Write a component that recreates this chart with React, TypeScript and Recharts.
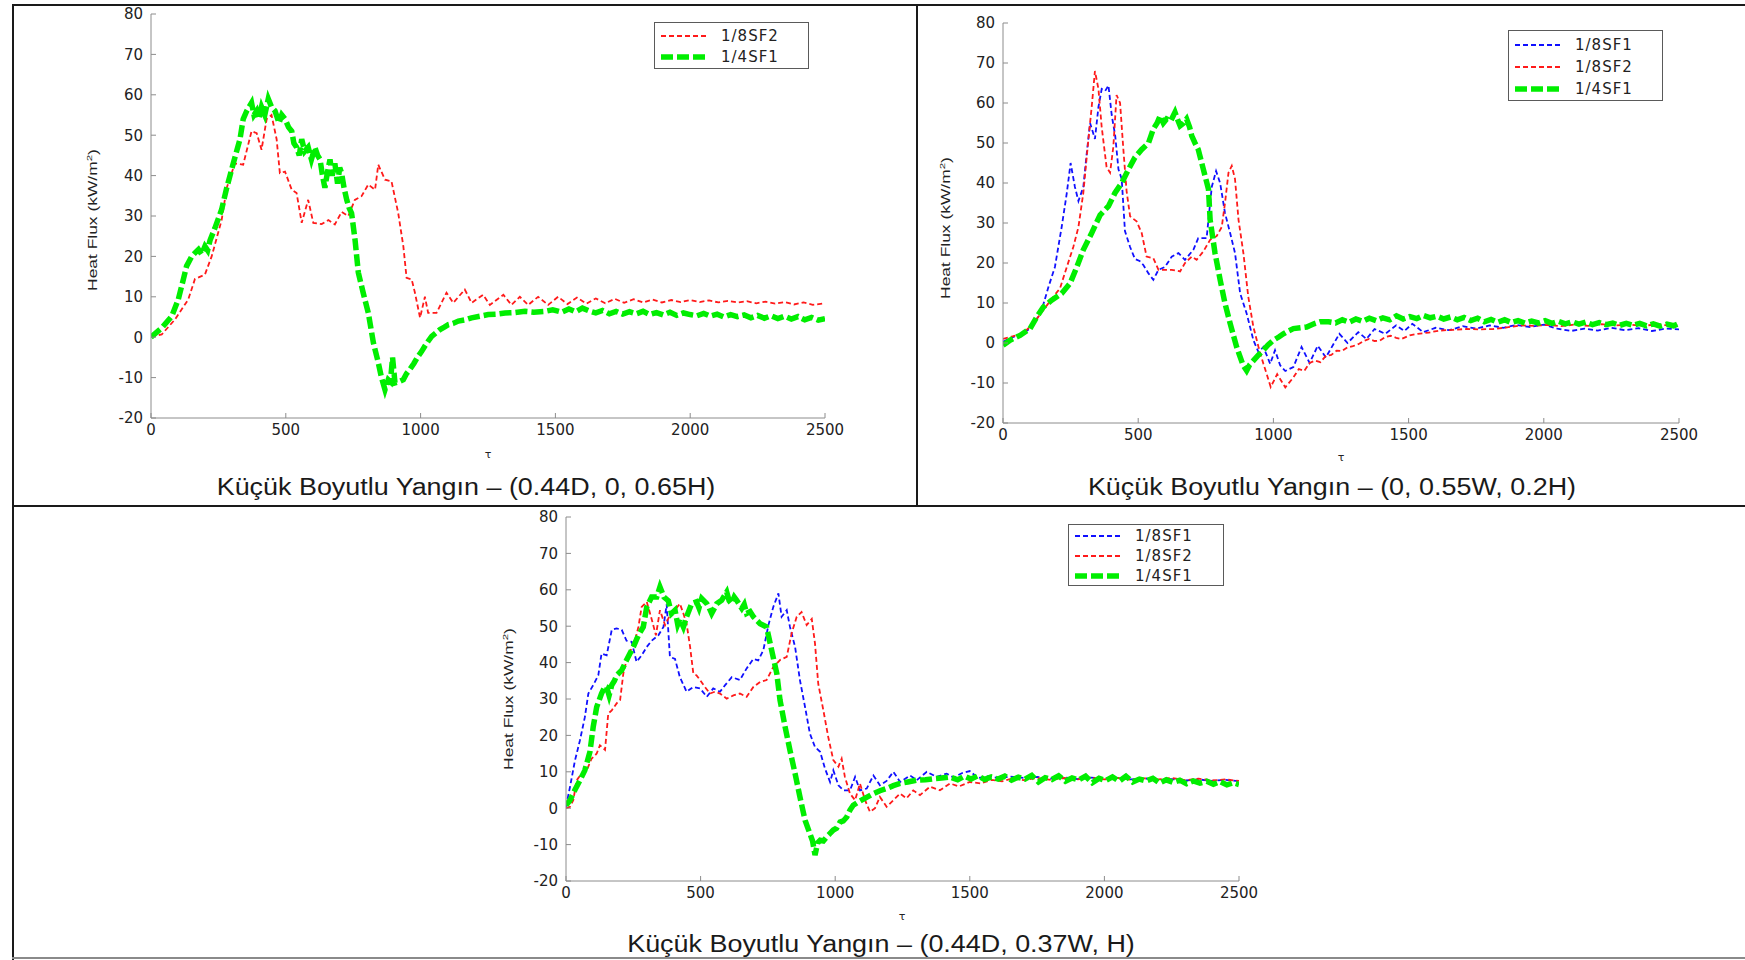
import React from 'react';
import { LineChart, Line, XAxis, YAxis } from 'recharts';

type Pt = [number, number];

const X_TICKS = [0, 500, 1000, 1500, 2000, 2500];
const Y_TICKS = [-20, -10, 0, 10, 20, 30, 40, 50, 60, 70, 80];

const CAPTIONS = [
  'Küçük Boyutlu Yangın – (0.44D, 0, 0.65H)',
  'Küçük Boyutlu Yangın – (0, 0.55W, 0.2H)',
  'Küçük Boyutlu Yangın – (0.44D, 0.37W, H)',
];
const SERIES_NAMES = { b: '1/8SF1', r: '1/8SF2', g: '1/4SF1' };

// Panel 1 (0.44D, 0, 0.65H)
const P1_RED: Pt[] = [
  [0, 0], [40, 0.7], [89, 4.4], [138, 9.3], [163, 14.4], [200, 15.5], [225, 20], [262, 29], [281, 37], [311, 43],
  [342, 42.7], [373, 51], [392, 50.5], [410, 46.4], [429, 54], [447, 55], [466, 49], [478, 40.6], [497, 41], [522, 36.5],
  [540, 35.7], [559, 28.3], [583, 34], [602, 28.3], [633, 28], [658, 29], [682, 27.9], [707, 31], [732, 30], [756, 34],
  [781, 34.9], [806, 37.8], [831, 36.5], [843, 42.7], [868, 39], [892, 38.6], [917, 30.7], [936, 22.5], [948, 14.7], [967, 14.3],
  [979, 11], [998, 4.8], [1016, 10], [1028, 6], [1059, 6], [1096, 11], [1121, 8.5], [1164, 11.8], [1189, 8.5], [1232, 10.5],
  [1257, 8], [1307, 10.5], [1337, 8], [1368, 10], [1399, 8], [1436, 10], [1473, 8], [1510, 10],
  [1545, 8.2], [1580, 9.8], [1615, 8.3], [1650, 9.6], [1685, 8.4], [1720, 9.5], [1755, 8.5], [1790, 9.4], [1825, 8.6], [1860, 9.3],
  [1895, 8.6], [1930, 9.2], [1965, 8.7], [2000, 9.2], [2035, 8.7], [2070, 9.1], [2105, 8.6], [2140, 9.0], [2175, 8.6], [2210, 8.9],
  [2245, 8.4], [2280, 8.8], [2315, 8.3], [2350, 8.7], [2385, 8.1], [2420, 8.6], [2455, 8.0], [2500, 8.4],
];
const P1_GREEN: Pt[] = [
  [0, 0], [40, 2.3], [77, 5.2], [101, 9.3], [120, 14.3], [132, 17.6], [151, 20], [165, 21], [176, 21.7], [188, 20.5],
  [200, 22.5], [210, 21.5], [219, 24], [237, 27], [262, 31.6], [281, 37], [305, 43], [330, 49], [342, 54], [355, 56],
  [373, 58], [382, 55], [392, 56], [400, 54], [410, 57], [422, 55], [435, 59], [447, 57], [460, 56], [475, 53],
  [485, 55], [497, 54], [510, 52], [522, 51], [530, 48], [540, 47], [550, 45], [559, 49], [570, 46], [583, 47],
  [595, 44], [608, 47], [618, 45], [627, 44], [636, 40], [645, 37], [655, 41], [664, 44], [672, 40], [682, 43],
  [692, 38], [700, 42], [707, 40.6], [716, 37], [726, 34], [735, 32], [744, 30.7], [757, 24], [769, 16], [787, 11],
  [806, 6], [825, -1.4], [843, -6.3], [855, -10], [868, -13], [880, -10.5], [888, -11], [896, -5], [905, -11.3], [920, -11],
  [936, -10.5], [948, -9], [960, -8], [975, -6.5], [991, -4.7], [1004, -3.5], [1016, -2.2], [1028, -1], [1041, 0.2], [1056, 1],
  [1072, 1.9], [1088, 2.5], [1103, 3.1], [1120, 3.4], [1140, 4], [1165, 4.3], [1189, 4.8], [1220, 5.2], [1251, 5.6], [1280, 5.7],
  [1313, 6], [1350, 6.1], [1387, 6.4], [1420, 6.2], [1461, 6.4], [1490, 6.8], [1523, 6.2],
  [1550, 7.0], [1575, 6.3], [1600, 7.2], [1625, 6.5], [1650, 6.0], [1675, 6.6], [1700, 5.8], [1725, 6.4], [1750, 5.7], [1775, 6.3],
  [1800, 5.8], [1825, 6.4], [1850, 5.6], [1875, 6.1], [1900, 5.5], [1925, 6.2], [1950, 5.4], [1975, 6.0], [2000, 5.6], [2025, 5.3],
  [2050, 5.9], [2075, 5.2], [2100, 5.7], [2125, 5.0], [2150, 5.6], [2175, 5.1], [2200, 5.5], [2225, 4.8], [2250, 5.4], [2275, 4.7],
  [2300, 5.3], [2325, 4.6], [2350, 5.2], [2375, 4.5], [2400, 5.1], [2425, 4.3], [2450, 4.9], [2475, 4.2], [2500, 4.6],
];

// Panel 2 (0, 0.55W, 0.2H)
const P2_BLUE: Pt[] = [
  [0, 0.3], [38, 1.5], [75, 2.3], [112, 4.4], [143, 8.2], [168, 14], [192, 19], [217, 29], [236, 37.5], [250, 45],
  [266, 39], [279, 35.5], [297, 39], [310, 47.6], [322, 55], [340, 51], [353, 59], [365, 63.5], [378, 63], [390, 64.4],
  [402, 57], [415, 51.8], [427, 43.4], [439, 41], [451, 28], [470, 24], [488, 21], [505, 20.5], [519, 19.5], [538, 17.4],
  [556, 15.8], [575, 18.3], [599, 19], [624, 21.6], [649, 22.5], [673, 20.8], [704, 23.3], [722, 26.2], [753, 26.2], [772, 39],
  [788, 43], [803, 40], [821, 32.5], [840, 27.5], [858, 22.5], [877, 12.4], [901, 7.4], [926, 0.7], [945, -2.3], [963, -1],
  [988, -5.2], [1006, -1.8], [1025, -5.6], [1044, -7], [1074, -6], [1104, -1], [1134, -5], [1164, -0.7], [1194, -3.6], [1244, 2.3],
  [1274, 0], [1314, 2.7], [1344, 1], [1374, 3.5], [1414, 2.3], [1454, 4.4], [1484, 3], [1514, 4.8], [1554, 2.7], [1600, 3.8],
  [1650, 3.2], [1700, 4.2], [1750, 3.6], [1800, 4.4], [1850, 3.8], [1900, 4.5], [1950, 4.0], [2000, 4.6], [2050, 3.6], [2100, 3.0],
  [2150, 3.6], [2200, 3.1], [2250, 3.8], [2300, 3.2], [2350, 3.7], [2400, 3.0], [2450, 3.6], [2500, 3.4],
];
const P2_RED: Pt[] = [
  [0, 1], [38, 1.7], [75, 2.5], [112, 4.9], [149, 8.2], [180, 11], [211, 13.7], [236, 19], [260, 24], [279, 29],
  [297, 37.5], [316, 51], [328, 59], [340, 68], [353, 63.5], [365, 54], [383, 44], [396, 42.6], [408, 49], [420, 62],
  [433, 60], [445, 48.5], [457, 38], [470, 31.7], [494, 30.4], [513, 27.5], [531, 21.6], [556, 21.2], [575, 18.3], [599, 18.3],
  [624, 18.3], [655, 17.9], [673, 20], [698, 21.6], [716, 20.8], [741, 22.9], [766, 25.8], [790, 26.7], [809, 29], [821, 35],
  [834, 42.6], [846, 44.3], [858, 41], [871, 30.8], [889, 22.5], [907, 11.6], [926, 4], [945, -1], [963, -5.2], [975, -7.7],
  [990, -11], [1014, -7.8], [1044, -11.1], [1074, -8.6], [1094, -6.5], [1114, -7], [1134, -5], [1154, -4.4], [1174, -4.8], [1194, -3.2],
  [1214, -3], [1234, -1.9], [1254, -2], [1274, -1.1], [1294, -0.8], [1314, -0.3], [1334, 0.5], [1354, 1], [1374, 0.5], [1394, 0.6],
  [1414, 1.5], [1434, 1.8], [1454, 1.3], [1474, 1], [1504, 1.9], [1534, 2.3], [1574, 2.6], [1614, 3.1], [1664, 3.3], [1714, 3.5],
  [1764, 3.4], [1814, 3.5], [1864, 3.9], [1914, 4.4], [1964, 4.3], [2014, 4.5], [2064, 4.2], [2114, 4.6], [2164, 4.3], [2214, 4.7],
  [2264, 4.4], [2314, 4.6], [2364, 4.3], [2414, 4.6], [2464, 4.4], [2500, 4.5],
];
const P2_GREEN: Pt[] = [
  [0, -0.6], [26, 0.7], [63, 1.9], [100, 3.6], [125, 6.5], [149, 9], [180, 10.7], [217, 12.4], [248, 14.9], [273, 19],
  [297, 23.3], [328, 27.5], [359, 32], [390, 34.2], [414, 37.5], [439, 40], [464, 43.4], [488, 46.4], [513, 48.4], [538, 50],
  [556, 53.5], [570, 55], [581, 56.8], [593, 55], [605, 56], [620, 55.5], [636, 57.7], [645, 56], [655, 54.3], [668, 55],
  [679, 56], [690, 54], [698, 51.8], [710, 50], [722, 48.4], [741, 43.4], [760, 38.4], [766, 30.8], [784, 22.5], [803, 15.8],
  [821, 9.9], [840, 4.9], [864, -1], [888, -5.6], [901, -6.9], [912, -5.5], [926, -4.4], [945, -3], [963, -1.8], [980, -0.5],
  [1000, 0.7], [1020, 1.5], [1037, 2.3], [1055, 3], [1074, 3.6], [1100, 3.8], [1123, 4], [1150, 4.8], [1173, 5.3], [1204, 5.3],
  [1230, 5.0], [1255, 5.8], [1280, 5.2], [1305, 6.0], [1330, 5.4], [1355, 6.2], [1380, 5.6], [1405, 6.3], [1430, 5.8], [1455, 6.8],
  [1480, 6.0], [1505, 6.6], [1530, 6.1], [1555, 6.9], [1580, 6.3], [1605, 6.7], [1630, 6.0], [1655, 6.5], [1680, 5.8], [1705, 6.4],
  [1730, 5.6], [1755, 6.2], [1780, 5.3], [1805, 5.9], [1830, 5.2], [1855, 5.8], [1880, 5.1], [1905, 5.6], [1930, 5.0], [1955, 5.5],
  [1980, 5.0], [2005, 5.6], [2030, 4.9], [2055, 5.4], [2080, 4.8], [2105, 5.3], [2130, 4.7], [2155, 5.2], [2180, 4.6], [2205, 5.1],
  [2230, 4.6], [2255, 5.0], [2280, 4.4], [2305, 4.9], [2330, 4.4], [2355, 4.9], [2380, 4.3], [2405, 4.8], [2430, 4.2], [2455, 4.7],
  [2480, 4.3], [2500, 4.9],
];

// Panel 3 (0.44D, 0.37W, H)
const P3_BLUE: Pt[] = [
  [0, 0.4], [15, 5.9], [33, 13], [52, 18.7], [70, 25], [83, 31.5], [101, 33.8], [120, 36.5], [132, 42.5], [151, 42],
  [170, 49], [188, 49.4], [207, 49], [225, 46], [244, 45.7], [262, 40.2], [281, 42], [300, 44.3], [318, 46], [343, 47.5],
  [362, 49.8], [374, 56], [386, 41.6], [405, 41], [423, 36], [448, 32], [473, 33.3], [498, 32.9], [523, 30.6], [547, 32.9],
  [572, 32], [591, 33.8], [616, 36], [646, 35.2], [671, 38.4], [696, 41], [714, 40.6], [733, 43.4], [752, 50.3], [770, 55.3],
  [789, 59], [801, 52.6], [820, 54.4], [832, 49.8], [851, 44.3], [869, 35.2], [888, 27.8], [906, 20.5], [925, 16.8], [944, 15.5],
  [962, 10.9], [981, 7.2], [993, 10.4], [1012, 6.3], [1030, 4.9], [1055, 4.9], [1074, 8.6], [1092, 4.9], [1117, 5.4], [1142, 9],
  [1166, 6.3], [1191, 7.5], [1216, 10], [1241, 7.2], [1278, 9], [1303, 7.7], [1340, 10], [1377, 8.6], [1414, 9.5], [1440, 8.4],
  [1470, 9.6], [1500, 10.2], [1530, 8.3], [1570, 8.8], [1610, 8.2], [1650, 8.7], [1700, 8.3], [1750, 8.6], [1800, 8.1], [1850, 8.5],
  [1900, 8.0], [1950, 8.4], [2000, 8.1], [2050, 8.3], [2100, 7.9], [2150, 8.2], [2200, 7.7], [2250, 8.0], [2300, 7.6], [2350, 7.9],
  [2400, 7.5], [2450, 7.8], [2500, 7.4],
];
const P3_RED: Pt[] = [
  [0, 0], [15, 0.4], [27, 2.2], [40, 7.7], [58, 9.5], [77, 10.4], [95, 13.6], [114, 15], [126, 17.3], [145, 16],
  [157, 26], [170, 26.9], [188, 28.8], [201, 29.7], [213, 37], [225, 40.7], [238, 43], [256, 46], [269, 49.8], [281, 55.3],
  [300, 56.7], [318, 52], [334, 47.5], [349, 54.4], [368, 50.3], [386, 53], [405, 54.4], [423, 56.2], [436, 53.5], [448, 50.7],
  [461, 44.3], [473, 37], [485, 36.5], [498, 35.2], [516, 33.3], [535, 31.5], [553, 32], [572, 31.5], [597, 30.1], [622, 31],
  [646, 31.5], [671, 30.6], [696, 33.3], [721, 34.7], [745, 35.2], [770, 38.8], [795, 40.7], [820, 41.6], [838, 48], [857, 52.6],
  [875, 53.9], [894, 50.3], [913, 52], [925, 45.2], [937, 34.2], [956, 26.9], [974, 19.6], [993, 13.2], [1012, 11.4], [1024, 13.6],
  [1036, 8.6], [1055, 4], [1074, 2.2], [1092, 6.8], [1111, 2.2], [1129, -1], [1148, 0], [1166, 3.1], [1191, 0.4], [1216, 2.2],
  [1241, 4], [1265, 2.7], [1290, 4.9], [1315, 3.6], [1352, 5.9], [1389, 4.9], [1426, 6.8], [1460, 6.0], [1500, 7.2], [1540, 6.8],
  [1580, 7.8], [1620, 7.4], [1660, 8.2], [1700, 7.7], [1750, 8.3], [1800, 7.8], [1850, 8.3], [1900, 7.9], [1950, 8.4], [2000, 7.9],
  [2050, 8.3], [2100, 7.8], [2150, 8.2], [2200, 7.9], [2250, 8.3], [2300, 7.7], [2350, 8.1], [2400, 7.6], [2450, 7.9], [2500, 7.5],
];
const P3_GREEN: Pt[] = [
  [0, 0.8], [15, 2.2], [33, 5], [52, 7.7], [70, 10.4], [89, 15.5], [101, 22.3], [114, 27.8], [132, 31.5], [145, 33.5],
  [151, 33.3], [160, 31], [170, 33.8], [180, 35], [188, 36.5], [207, 37.9], [225, 40.7], [250, 44.3], [269, 47.5], [287, 49.8],
  [300, 55.3], [318, 58], [337, 58], [349, 60.8], [364, 58], [380, 57], [392, 53.5], [405, 54.4], [415, 50.5], [423, 52],
  [436, 49.8], [448, 52.6], [467, 56.2], [485, 56.7], [494, 55], [504, 57.6], [523, 56.2], [532, 55], [541, 53.5], [560, 56.2],
  [578, 57.1], [597, 59.4], [606, 57], [615, 56.2], [625, 58], [634, 57.1], [653, 54.9], [662, 56], [671, 53.5], [684, 54],
  [696, 52.6], [710, 51.5], [721, 50.7], [745, 49.8], [764, 43.4], [783, 37], [795, 29.7], [814, 22.3], [832, 15.9], [851, 9.5],
  [869, 3.1], [888, -3.3], [906, -7], [916, -9], [925, -12.9], [935, -9.5], [944, -8.8], [956, -9], [968, -7.9], [980, -7],
  [993, -6], [1005, -5.5], [1018, -3.8], [1030, -3.5], [1043, -2.4], [1055, -0.5], [1067, 0.8], [1082, 1.5], [1098, 2.2], [1120, 3.1],
  [1142, 4], [1166, 4.8], [1191, 5.4], [1216, 6.2], [1241, 6.8], [1270, 7.2], [1303, 7.7], [1335, 7.8], [1365, 8.1], [1395, 8.3],
  [1426, 8.6], [1455, 7.8], [1480, 8.8], [1505, 8.0], [1530, 8.9], [1555, 7.9], [1580, 8.6], [1605, 8.0], [1630, 8.8], [1655, 7.7],
  [1680, 8.5], [1705, 8.0], [1730, 9.0], [1755, 7.2], [1780, 8.4], [1805, 7.9], [1830, 8.9], [1855, 7.4], [1880, 8.3], [1905, 7.8],
  [1930, 8.8], [1955, 7.0], [1980, 8.2], [2005, 7.6], [2030, 8.6], [2055, 7.4], [2080, 8.8], [2105, 7.2], [2130, 8.0], [2155, 7.5],
  [2180, 8.2], [2205, 6.9], [2230, 7.8], [2255, 7.1], [2280, 7.7], [2305, 6.7], [2330, 7.5], [2355, 6.9], [2380, 7.4], [2405, 6.6],
  [2430, 7.3], [2455, 6.4], [2480, 7.0], [2500, 6.5],
];

const COLORS = { b: '#1010ff', r: '#ff1a1a', g: '#00ee00' };
const AXIS_COLOR = '#8c8c8c';
const TEXT_COLOR = '#222222';
const TICK_FONT = 'DejaVu Sans';

type Key = 'b' | 'r' | 'g';
const STYLE: Record<Key, { w: number; dash: string }> = {
  b: { w: 1.8, dash: '5 3' },
  r: { w: 1.8, dash: '5 3' },
  g: { w: 5.5, dash: '12 4' },
};

const toData = (pts: Pt[]) => pts.map(([t, v]) => ({ t, v }));

type Box = { x: number; y: number; w: number; h: number };

const YW = 50;
const XH = 30;
const MT = 10;
const MR = 30;

function Panel({ box, series }: { box: Box; series: { key: Key; pts: Pt[] }[] }) {
  return (
    <div style={{ position: 'absolute', left: box.x - YW, top: box.y - MT }}>
      <LineChart
        width={box.w + YW + MR}
        height={box.h + MT + XH}
        margin={{ top: MT, right: MR, bottom: 0, left: 0 }}
      >
        <XAxis
          xAxisId="b"
          dataKey="t"
          type="number"
          domain={[0, 2500]}
          ticks={X_TICKS}
          allowDataOverflow
          height={XH}
          stroke={AXIS_COLOR}
          tickSize={-5}
          tickMargin={11}
          tick={{ fill: TEXT_COLOR, fontSize: 15, fontFamily: TICK_FONT }}
          interval={0}
        />
        <XAxis
          xAxisId="top"
          orientation="top"
          type="number"
          domain={[0, 2500]}
          ticks={X_TICKS}
          allowDataOverflow
          height={0}
          stroke={AXIS_COLOR}
          tickSize={-5}
          tick={false}
          interval={0}
        />
        <YAxis
          yAxisId="l"
          type="number"
          domain={[-20, 80]}
          ticks={Y_TICKS}
          allowDataOverflow
          width={YW}
          stroke={AXIS_COLOR}
          tickSize={-5}
          tickMargin={13}
          tick={{ fill: TEXT_COLOR, fontSize: 15, fontFamily: TICK_FONT }}
          interval={0}
        />
        <YAxis
          yAxisId="rt"
          orientation="right"
          type="number"
          domain={[-20, 80]}
          ticks={Y_TICKS}
          allowDataOverflow
          width={0}
          stroke={AXIS_COLOR}
          tickSize={-5}
          tick={false}
          interval={0}
        />
        {series.map((s) => (
          <Line
            key={s.key}
            xAxisId="b"
            yAxisId="l"
            data={toData(s.pts)}
            dataKey="v"
            type="linear"
            stroke={COLORS[s.key]}
            strokeWidth={STYLE[s.key].w}
            strokeDasharray={STYLE[s.key].dash}
            dot={false}
            activeDot={false}
            isAnimationActive={false}
          />
        ))}
      </LineChart>
    </div>
  );
}

function LegendBox({ x, y, w, h, rows, keys }: { x: number; y: number; w: number; h: number; rows: number[]; keys: Key[] }) {
  return (
    <div
      style={{
        position: 'absolute', left: x, top: y, width: w, height: h,
        border: '1.5px solid #5a5a5a', background: '#fff', boxSizing: 'border-box',
      }}
    >
      {keys.map((k, i) => (
        <div key={k} style={{ position: 'absolute', left: 0, top: rows[i] - 10, height: 20, width: w }}>
          <svg width={60} height={20} style={{ position: 'absolute', left: 0, top: 0 }}>
            <line x1={6} y1={10} x2={54} y2={10} stroke={COLORS[k]} strokeWidth={STYLE[k].w} strokeDasharray={STYLE[k].dash} />
          </svg>
          <span
            style={{
              position: 'absolute', left: 66, top: 0, lineHeight: '20px',
              fontFamily: TICK_FONT, fontSize: 15, color: TEXT_COLOR, letterSpacing: 1, whiteSpace: 'nowrap',
            }}
          >
            {SERIES_NAMES[k]}
          </span>
        </div>
      ))}
    </div>
  );
}

function YLabel({ cx, cy }: { cx: number; cy: number }) {
  return (
    <div
      style={{
        position: 'absolute', left: cx, top: cy, whiteSpace: 'nowrap',
        transform: 'translate(-50%, -50%) rotate(-90deg) scaleX(1.45)',
        fontFamily: 'Liberation Sans', fontSize: 12, color: TEXT_COLOR, lineHeight: '14px',
      }}
    >
      Heat Flux (kW/m<sup style={{ fontSize: 8, lineHeight: 0 }}>2</sup>)
    </div>
  );
}

function XLabel({ cx, cy }: { cx: number; cy: number }) {
  return (
    <div
      style={{
        position: 'absolute', left: cx, top: cy, transform: 'translate(-50%, -50%)',
        fontFamily: 'DejaVu Sans', fontSize: 11, color: TEXT_COLOR,
      }}
    >
      τ
    </div>
  );
}

function Caption({ cx, cy, text }: { cx: number; cy: number; text: string }) {
  return (
    <div
      style={{
        position: 'absolute', left: cx, top: cy, whiteSpace: 'nowrap',
        transform: 'translate(-50%, -50%) scaleX(1.17)',
        fontFamily: 'Liberation Sans', fontSize: 23, color: '#1a1a1a', lineHeight: '26px',
      }}
    >
      {text}
    </div>
  );
}

function Rule({ x, y, w, h, c }: { x: number; y: number; w: number; h: number; c: string }) {
  return <div style={{ position: 'absolute', left: x, top: y, width: w, height: h, background: c }} />;
}

export default function App() {
  return (
    <div style={{ position: 'absolute', left: 0, top: 0, width: 1745, height: 960, background: '#fff', overflow: 'hidden' }}>
      <Rule x={12} y={4} w={1733} h={2} c="#1a1a1a" />
      <Rule x={12} y={4} w={2} h={956} c="#1a1a1a" />
      <Rule x={916} y={4} w={2} h={503} c="#1a1a1a" />
      <Rule x={12} y={505} w={1733} h={2} c="#1a1a1a" />
      <Rule x={12} y={957} w={1733} h={2} c="#8a8a8a" />

      <Panel box={{ x: 151, y: 14, w: 674, h: 404 }} series={[{ key: 'r', pts: P1_RED }, { key: 'g', pts: P1_GREEN }]} />
      <Panel
        box={{ x: 1003, y: 23, w: 676, h: 400 }}
        series={[{ key: 'b', pts: P2_BLUE }, { key: 'r', pts: P2_RED }, { key: 'g', pts: P2_GREEN }]}
      />
      <Panel
        box={{ x: 566, y: 517, w: 673, h: 364 }}
        series={[{ key: 'b', pts: P3_BLUE }, { key: 'r', pts: P3_RED }, { key: 'g', pts: P3_GREEN }]}
      />

      <LegendBox x={654} y={22} w={155} h={47} rows={[13, 34]} keys={['r', 'g']} />
      <LegendBox x={1508} y={30} w={155} h={71} rows={[14, 36, 58]} keys={['b', 'r', 'g']} />
      <LegendBox x={1068} y={524} w={156} h={62} rows={[11, 31, 51]} keys={['b', 'r', 'g']} />

      <YLabel cx={93} cy={220} />
      <YLabel cx={946} cy={228} />
      <YLabel cx={509} cy={699} />

      <XLabel cx={488} cy={454} />
      <XLabel cx={1341} cy={457} />
      <XLabel cx={902} cy={916} />

      <Caption cx={466} cy={487} text={CAPTIONS[0]} />
      <Caption cx={1332} cy={487} text={CAPTIONS[1]} />
      <Caption cx={881} cy={944} text={CAPTIONS[2]} />
    </div>
  );
}
